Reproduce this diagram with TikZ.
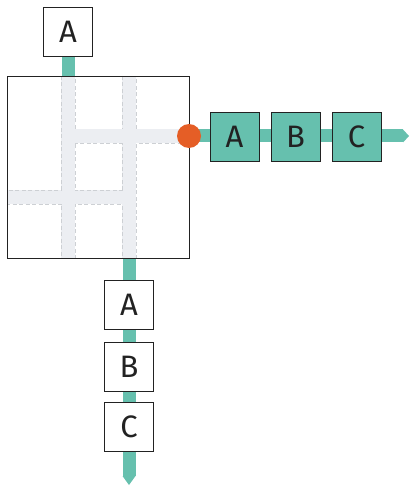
\documentclass[tikz,border=0pt]{standalone}
\usepackage{fontspec}
\setmainfont{Fira Sans}
\usetikzlibrary{calc}
\definecolor{tealc}{HTML}{66C0AE}
\definecolor{orangec}{HTML}{E55E26}
\definecolor{lanec}{HTML}{ECEEF2}
\definecolor{dashc}{HTML}{CDD0D4}
\definecolor{inkc}{HTML}{222222}
\pgfdeclarelayer{bg}
\pgfsetlayers{bg,main}
\begin{document}
\begin{tikzpicture}[x=1pt,y=-1pt,
 box/.style={draw=inkc, line width=0.9pt, fill=white, minimum width=49pt, minimum height=49pt, inner sep=0pt, font=\fontsize{31}{31}\selectfont, text=inkc},
 tbox/.style={box, fill=tealc},
 flow/.style={draw=tealc, line width=13pt},
 lane/.style={fill=lanec, draw=dashc, line width=0.8pt, dash pattern=on 4pt off 2.5pt},
]
\useasboundingbox (0,0) rectangle (410,486);
% main square
\node[draw=inkc, line width=1.2pt, minimum size=182pt, inner sep=0pt, anchor=north west] (grid) at (7,76) {};
% top input
\node[box] (ta) at (68,31.5) {A};
% orange port
\node[circle, fill=orangec, minimum size=24pt, inner sep=0pt] (dot) at (189,136) {};
% right chain
\node[tbox] (ra) at (234.5,136.5) {A};
\node[tbox] (rb) at (295.5,136.5) {B};
\node[tbox] (rc) at (356.5,136.5) {C};
\coordinate (rend) at (403,136);
% bottom chain
\node[box] (ba) at (129,305) {A};
\node[box] (bb) at (129,366.5) {B};
\node[box] (bc) at (129,426.5) {C};
\coordinate (bend) at (129,476);
\begin{pgfonlayer}{bg}
 % lanes with dashed borders
 \path[lane] (61,76) rectangle (75,258);
 \path[lane] (122,76) rectangle (136,258);
 \path[lane] (68,129) rectangle (189,143);
 \path[lane] (7,190) rectangle (129,204);
 \fill[lanec] (61.5,76.5) rectangle (74.5,257.5);
 \fill[lanec] (122.5,76.5) rectangle (135.5,257.5);
 \fill[lanec] (68.5,129.5) rectangle (188.5,142.5);
 \fill[lanec] (7.5,190.5) rectangle (128.5,203.5);
 % teal flows
 \draw[flow] (ta.south) -- (ta.south |- grid.north);
 \draw[flow] (dot.center) -- (rend);
 \fill[tealc] ($(rend)+(0,-6.5)$) -- ($(rend)+(6,0)$) -- ($(rend)+(0,6.5)$) -- cycle;
 \draw[flow] (ba.north |- grid.south) -- (bend);
 \fill[tealc] ($(bend)+(-6.5,0)$) -- ($(bend)+(0,9)$) -- ($(bend)+(6.5,0)$) -- cycle;
\end{pgfonlayer}
\end{tikzpicture}
\end{document}
